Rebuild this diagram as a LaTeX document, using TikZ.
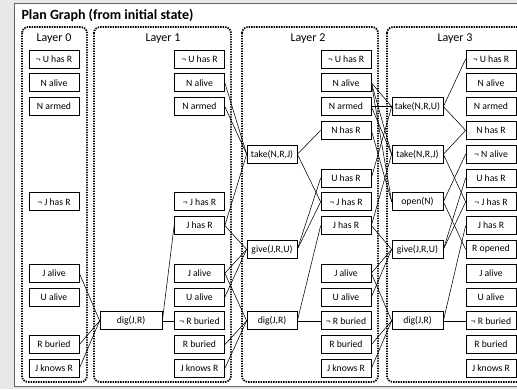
\documentclass[tikz,border=0pt]{standalone}
\usepackage{fontspec}
\setmainfont{Carlito}
\begin{document}
\begin{tikzpicture}[x=1pt,y=-1pt,
	fact/.style={draw,line width=.7pt,minimum width=50pt,minimum height=18pt,inner sep=0pt,font=\fontsize{9.7}{10}\selectfont},
	act/.style={fact},
	layer/.style={draw,line width=1.8pt,dash pattern=on 1.4pt off 1.1pt,rounded corners=6pt},
	link/.style={line width=.55pt},
	lbl/.style={font=\fontsize{12}{14}\selectfont}]
	\clip(0,0)rectangle(517,389);
	\fill[black!9](0,0)rectangle(517,389);
	\draw[fill=white,draw=black!60,line width=1pt](14,3)rectangle(530,386);
	\node[anchor=west,font=\fontsize{14}{16}\selectfont\bfseries](T)at(18,15){Plan Graph (from initial state)};
	\draw[layer](22,27)rectangle(87,382);
	\draw[layer](94,27)rectangle(231,382);
	\draw[layer](242,27)rectangle(378,382);
	\draw[layer](387,27)rectangle(523,382);
	\node[lbl](L0)at(54,39){Layer 0};
	\node[lbl](L1)at(163,39){Layer 1};
	\node[lbl](L2)at(308,39){Layer 2};
	\node[lbl](L3)at(455,39){Layer 3};
	\foreach\r/\t in{0/¬ U has R,1/N alive,2/N armed,6/¬ J has R,9/J alive,10/U alive,12/R buried,13/J knows R}
		\node[fact](F0r\r)at(54,59+23.8*\r){\t};
	\foreach\r/\t in{0/¬ U has R,1/N alive,2/N armed,6/¬ J has R,7/J has R,9/J alive,10/U alive,11/¬ R buried,12/R buried,13/J knows R}
		\node[fact](F1r\r)at(199.5,59+23.8*\r){\t};
	\foreach\r/\t in{0/¬ U has R,1/N alive,2/N armed,3/N has R,5/U has R,6/¬ J has R,7/J has R,9/J alive,10/U alive,11/¬ R buried,12/R buried,13/J knows R}
		\node[fact](F2r\r)at(346,59+23.8*\r){\t};
	\foreach\r/\t in{0/¬ U has R,1/N alive,2/N armed,3/N has R,4/¬ N alive,5/U has R,6/¬ J has R,7/J has R,8/R opened,9/J alive,10/U alive,11/¬ R buried,12/R buried,13/J knows R}
		\node[fact](F3r\r)at(491,59+23.8*\r){\t};
	\node[act,minimum width=62pt](dig1)at(131,59+23.8*11){dig(J,R)};
	\node[act](take2)at(272,59+23.8*4){take(N,R,J)};
	\node[act](give2)at(272,59+23.8*8){give(J,R,U)};
	\node[act](dig2)at(272,59+23.8*11){dig(J,R)};
	\node[act,minimum width=51pt](takeU3)at(417.5,59+23.8*2){take(N,R,U)};
	\node[act,minimum width=51pt](takeJ3)at(417.5,59+23.8*4){take(N,R,J)};
	\node[act,minimum width=51pt](open3)at(417.5,59+23.8*6){open(N)};
	\node[act,minimum width=51pt](give3)at(417.5,59+23.8*8){give(J,R,U)};
	\node[act,minimum width=51pt](dig3)at(417.5,59+23.8*11){dig(J,R)};
	\foreach\a/\b in{F0r9/dig1,F0r12/dig1,F0r13/dig1,dig1/F1r7,dig1/F1r11,
		F1r1/take2,F1r2/take2,F1r7/take2,F1r7/give2,F1r9/give2,F1r10/give2,F1r9/dig2,F1r12/dig2,F1r13/dig2,
		take2/F2r3,take2/F2r6,give2/F2r5,give2/F2r6,dig2/F2r7,dig2/F2r11,
		F2r1/takeU3,F2r2/takeU3,F2r5/takeU3,F2r1/takeJ3,F2r2/takeJ3,F2r7/takeJ3,F2r1/open3,F2r3/open3,
		F2r7/give3,F2r9/give3,F2r10/give3,F2r9/dig3,F2r12/dig3,F2r13/dig3,
		takeU3/F3r0,takeU3/F3r3,takeJ3/F3r3,takeJ3/F3r6,open3/F3r4,open3/F3r8,give3/F3r5,give3/F3r6,dig3/F3r7,dig3/F3r11}
		\draw[link](\a.east)--(\b.west);
\end{tikzpicture}
\end{document}
